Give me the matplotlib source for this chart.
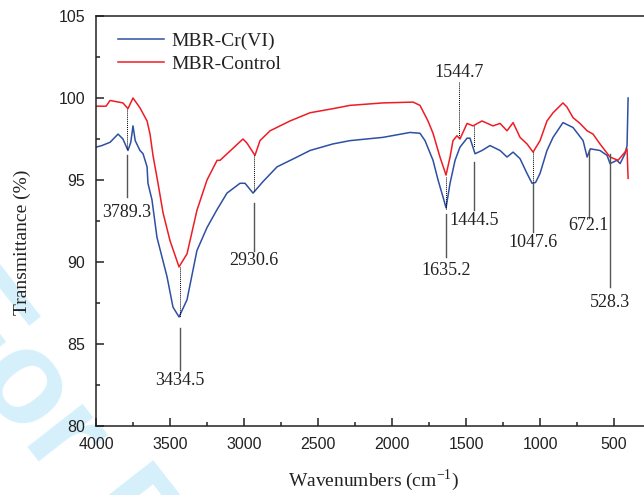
import matplotlib
matplotlib.use("Agg")
import matplotlib.pyplot as plt
from matplotlib.ticker import MultipleLocator

# FTIR spectra (wavenumber cm-1, transmittance %)
cr_wn = [4000, 3960, 3905, 3851, 3818, 3784, 3765, 3750, 3735, 3703, 3682, 3655,
         3649, 3622, 3588, 3520, 3480, 3439, 3385, 3318, 3250, 3182, 3115, 3027,
         2993, 2966, 2939, 2872, 2777, 2642, 2554, 2399, 2284, 2061, 1878, 1811,
         1777, 1723, 1689, 1655, 1635, 1608, 1574, 1541, 1493, 1473, 1439, 1392,
         1338, 1270, 1223, 1182, 1135, 1088, 1054, 1030, 1000, 953, 912, 845,
         777, 709, 682, 660, 595, 547, 527, 480, 459, 426, 412, 405]
cr_t = [97.0, 97.1, 97.3, 97.8, 97.5, 96.8, 97.3, 98.3, 97.4, 96.8, 96.6, 95.8,
        94.8, 93.8, 91.5, 89.1, 87.25, 86.65, 87.7, 90.7, 92.1, 93.2, 94.2, 94.8,
        94.8, 94.5, 94.2, 94.9, 95.8, 96.4, 96.8, 97.2, 97.4, 97.6, 97.9, 97.85,
        97.4, 96.2, 95.0, 93.95, 93.3, 94.8, 96.2, 97.0, 97.55, 97.55, 96.6, 96.8,
        97.1, 96.8, 96.4, 96.7, 96.3, 95.4, 94.8, 94.85, 95.4, 96.8, 97.6, 98.5,
        98.2, 97.4, 96.4, 96.9, 96.8, 96.5, 96.0, 96.2, 96.0, 96.6, 97.1, 100.0]

ctrl_wn = [4000, 3932, 3905, 3818, 3784, 3750, 3703, 3655, 3635, 3615, 3581, 3547,
           3500, 3439, 3385, 3318, 3250, 3182, 3162, 3007, 2980, 2926, 2892, 2824,
           2689, 2554, 2399, 2284, 2061, 1858, 1811, 1757, 1723, 1676, 1635, 1608,
           1588, 1561, 1541, 1493, 1453, 1392, 1318, 1270, 1223, 1182, 1135, 1088,
           1047, 1000, 953, 912, 845, 818, 777, 730, 682, 642, 595, 527,
           473, 426, 412, 405]
ctrl_t = [99.5, 99.5, 99.85, 99.7, 99.35, 100.0, 99.4, 98.6, 97.8, 96.5, 94.8, 93.0,
          91.3, 89.7, 90.5, 93.15, 95.0, 96.2, 96.2, 97.5, 97.25, 96.5, 97.4, 98.0,
          98.6, 99.1, 99.35, 99.55, 99.7, 99.75, 99.55, 98.6, 97.85, 96.4, 95.3, 96.4,
          97.4, 97.7, 97.5, 98.45, 98.3, 98.6, 98.3, 98.45, 98.0, 98.5, 97.6, 97.2,
          96.7, 97.4, 98.6, 99.1, 99.7, 99.45, 98.8, 98.45, 98.0, 97.8, 97.2, 96.4,
          96.2, 96.7, 96.9, 95.1]

# peak labels: wavenumber, dotted span, solid leader span, label y
peaks = ["3789.3", "3434.5", "2930.6", "1635.2", "1444.5", "1047.6", "672.1", "528.3"]
dotted = [(99.35, 96.9), (89.7, 86.65), (96.5, 94.3), (95.2, 93.2),
          (98.3, 97.0), (96.7, 94.8), None, None]
leader = [(96.5, 93.95), (86.0, 83.4), (93.6, 90.7), (92.95, 90.3),
          (96.1, 93.15), (94.8, 91.8), (96.8, 92.7), (96.6, 88.5)]
label_y = [93.0, 82.8, 90.1, 89.5, 92.55, 91.2, 92.2, 87.55]

BLUE = "#2f4fa3"
RED = "#ee1c25"
SERIF = "Liberation Serif"
SANS = "Liberation Sans"

fig = plt.figure(figsize=(6.44, 4.95), dpi=100)

# faint review watermark behind the plot
fig.text(-78 / 644, 1 - 312 / 495, "For Peer Review", rotation=-52,
         rotation_mode="anchor", fontsize=95, fontweight="bold",
         color="#d6f0fb", family=SANS, ha="left", va="baseline", zorder=0)

ax = fig.add_axes([96 / 644, 69 / 495, 554 / 644, 410 / 495])
ax.set_zorder(1)
ax.patch.set_alpha(0)

ax.plot(cr_wn, cr_t, color=BLUE, lw=1.1, label="MBR-Cr(VI)")
ax.plot(ctrl_wn, ctrl_t, color=RED, lw=1.1, label="MBR-Control")

for wn, d, s, ly in zip(peaks, dotted, leader, label_y):
    x = float(wn)
    if d is not None:
        ax.plot([x, x], d, color="black", lw=0.7, ls=(0, (1, 1)))
    ax.plot([x, x], s, color="#555555", lw=1.0)
    ax.text(x, ly, wn, ha="center", va="center", family=SERIF, fontsize=13,
            color="#222222")

# 1544.7 is labelled above the control curve
ax.plot([1544.7, 1544.7], [101.0, 97.6], color="black", lw=0.7, ls=(0, (1, 1)))
ax.text(1544.7, 101.55, "1544.7", ha="center", va="center", family=SERIF,
        fontsize=13, color="#222222")

ax.set_xlim(4000, 257)
ax.set_ylim(80, 105)
ax.xaxis.set_major_locator(MultipleLocator(500))
ax.xaxis.set_minor_locator(MultipleLocator(250))
ax.yaxis.set_major_locator(MultipleLocator(5))
ax.yaxis.set_minor_locator(MultipleLocator(2.5))
ax.tick_params(which="both", direction="in", top=False, right=False,
               labelsize=11.5, width=1.1, colors="#222222")
ax.tick_params(which="major", length=6, pad=8)
ax.tick_params(which="minor", length=3)
for lab in ax.get_xticklabels() + ax.get_yticklabels():
    lab.set_family(SANS)
for sp in ax.spines.values():
    sp.set_linewidth(1.1)
    sp.set_color("#222222")

ax.set_xlabel(r"Wavenumbers (cm$^{\mathregular{-1}}$)", family=SERIF,
              fontsize=14, color="#222222")
ax.set_ylabel("Transmittance (%)", family=SERIF, fontsize=14, color="#222222")
ax.xaxis.set_label_coords((373 - 96) / 554, -(467 - 426) / 410)
ax.yaxis.set_label_coords(-(96 - 31) / 554, (426 - 242) / 410)

leg = ax.legend(loc="upper left", bbox_to_anchor=((118 - 96) / 554, (426 - 32) / 410),
                frameon=False, borderpad=0, borderaxespad=0, handlelength=2.35,
                handletextpad=0.4, labelspacing=0.3,
                prop={"family": SERIF, "size": 14})
for t in leg.get_texts():
    t.set_color("#222222")

fig.savefig("out.png", dpi=100)
